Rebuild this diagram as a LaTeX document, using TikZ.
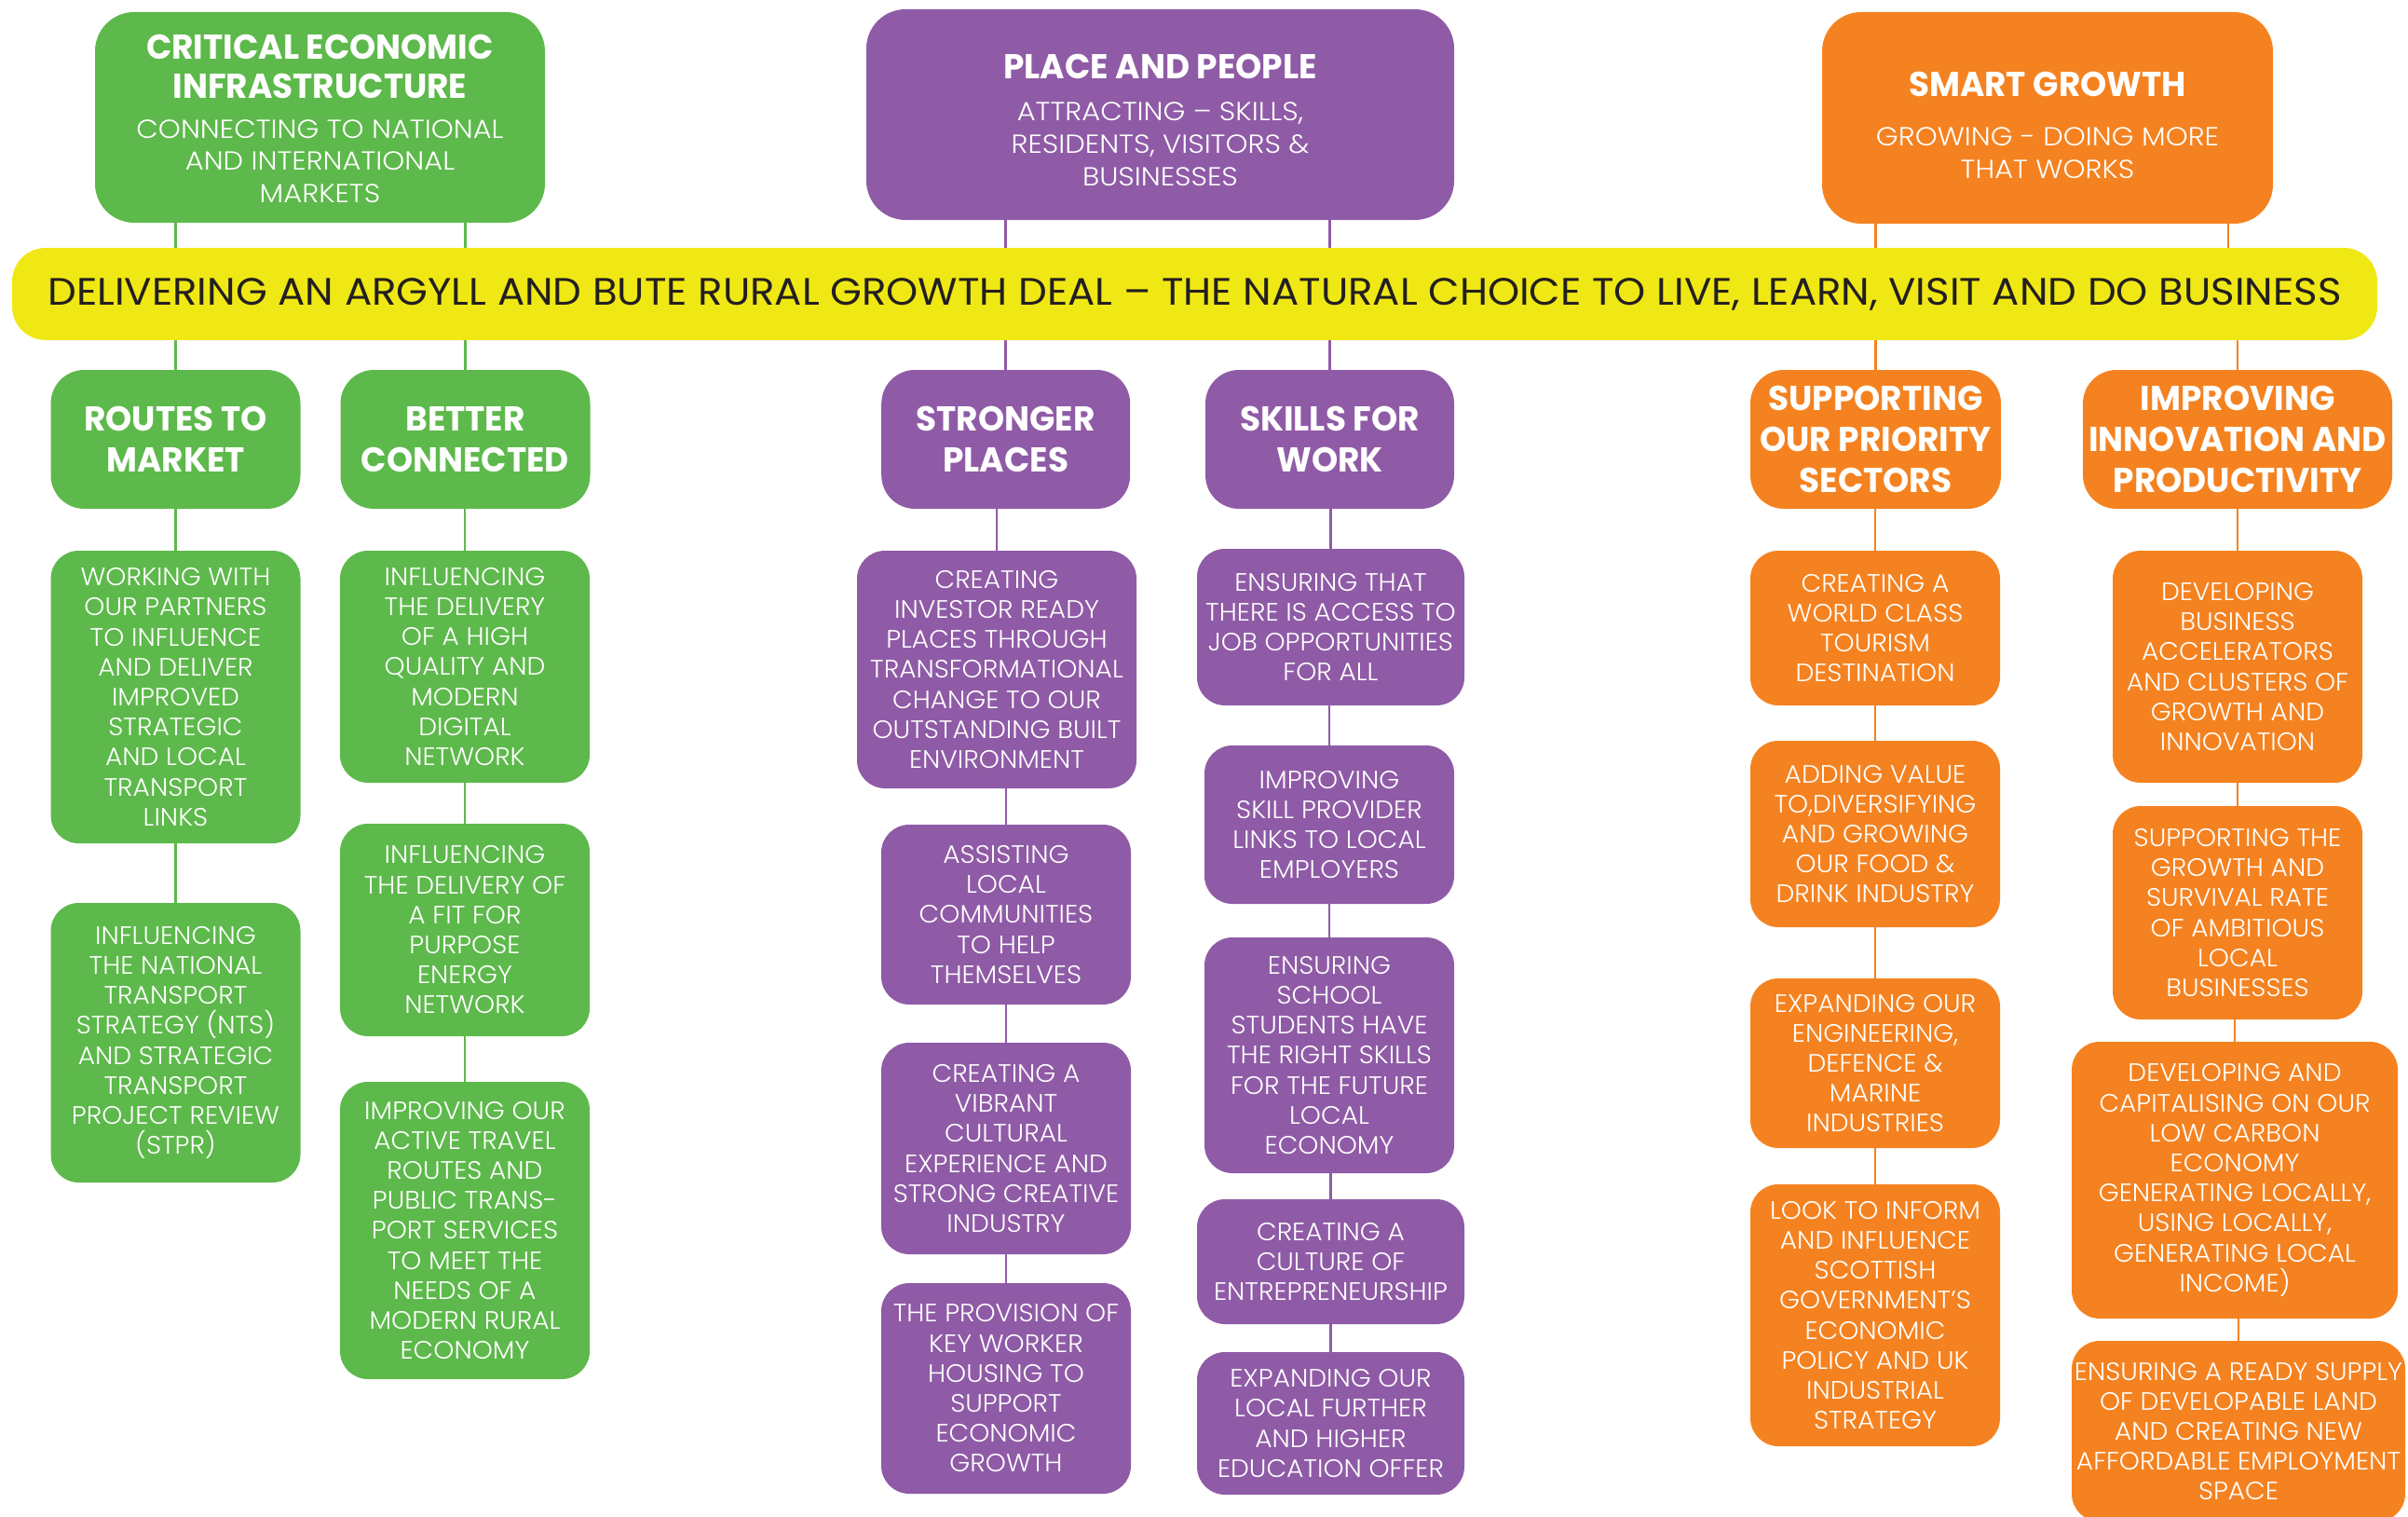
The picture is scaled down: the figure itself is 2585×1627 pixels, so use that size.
\documentclass[tikz,border=0pt]{standalone}
\usepackage{fontspec}
\setmainfont{Poppins}
\newfontfamily\bodyfont{Poppins Light}[FakeStretch=1.04]
\newfontfamily\subfont{Poppins Light}[FakeStretch=1.09]
\newfontfamily\headfont{Poppins}[FakeStretch=0.97]
\newfontfamily\barfont{Poppins}[FakeStretch=1.06]
\usetikzlibrary{backgrounds}
\definecolor{gruen}{HTML}{5DB94B}
\definecolor{lila}{HTML}{8F5BA6}
\definecolor{orangeb}{HTML}{F58220}
\definecolor{gelb}{HTML}{F0E814}
\definecolor{dunkel}{HTML}{231F20}
\newcommand\hd[1]{{\headfont\bfseries\fontsize{37}{42}\selectfont #1}}

\tikzset{
  sz/.style 2 args={minimum width=#1pt, minimum height=#2pt},
  box/.style={rounded corners=30pt, text=white, align=center, inner sep=0pt,
    font=\bodyfont\fontsize{27}{32.2}\selectfont},
  topbox/.style={box, rounded corners=42pt, font=\subfont\fontsize{28}{34.8}\selectfont},
  midbox/.style={box, rounded corners=36pt, font=\headfont\bfseries\fontsize{37}{44}\selectfont},
  link/.style={line width=2.5pt}
}

\begin{document}
\begin{tikzpicture}[x=1pt,y=-1pt]
\useasboundingbox (0,0) rectangle (2585,1627);
\clip (0,0) rectangle (2585,1627);

% top row
\node [topbox,fill=gruen,sz={483}{226}] (crit) at (343.5,126)
  {\hd{\rule{0pt}{29pt}CRITICAL ECONOMIC}\\[7.4pt]\hd{INFRASTRUCTURE}\\[8pt]CONNECTING TO NATIONAL\\AND INTERNATIONAL\\MARKETS};
\node [topbox,fill=lila,sz={631}{226}] (place) at (1245.5,123)
  {\hd{\rule{0pt}{38pt}PLACE AND PEOPLE}\\[10.5pt]ATTRACTING – SKILLS,\\RESIDENTS, VISITORS \&\\BUSINESSES};
\node [topbox,fill=orangeb,sz={484}{227}] (smart) at (2198,126.5)
  {\hd{\rule{0pt}{42pt}SMART GROWTH}\\[18.5pt]GROWING - DOING MORE\\THAT WORKS};

% banner
\node [rounded corners=36pt,fill=gelb,text=dunkel,inner sep=0pt,sz={2539}{99},
  font=\barfont\fontsize{41}{48}\selectfont] (bar) at (1282.5,315.5)
  {DELIVERING AN ARGYLL AND BUTE RURAL GROWTH DEAL – THE NATURAL CHOICE TO LIVE, LEARN, VISIT AND DO BUSINESS};

% second row
\node [midbox,fill=gruen,sz={268}{149}] (routes) at (188.5,471.5) {ROUTES TO\\MARKET};
\node [midbox,fill=gruen,sz={268}{149}] (better) at (499.5,471.5) {BETTER\\CONNECTED};
\node [midbox,fill=lila,sz={267}{149}] (stronger) at (1079.7,471.5) {STRONGER\\PLACES};
\node [midbox,fill=lila,sz={267}{149}] (skills) at (1427.5,471.5) {SKILLS FOR\\WORK};
\node [midbox,fill=orangeb,sz={269}{149}] (supp) at (2013.5,471.5) {SUPPORTING\\OUR PRIORITY\\SECTORS};
\node [midbox,fill=orangeb,sz={332}{149}] (impr) at (2402,471.5) {IMPROVING\\INNOVATION AND\\PRODUCTIVITY};

% green columns
\node [box,fill=gruen,sz={268}{314}] (work) at (188.5,748)
  {WORKING WITH\\OUR PARTNERS\\TO INFLUENCE\\AND DELIVER\\IMPROVED\\STRATEGIC\\AND LOCAL\\TRANSPORT\\LINKS};
\node [box,fill=gruen,sz={268}{300}] (nts) at (188.5,1119)
  {INFLUENCING\\THE NATIONAL\\TRANSPORT\\STRATEGY (NTS)\\AND STRATEGIC\\TRANSPORT\\PROJECT REVIEW\\(STPR)};
\node [box,fill=gruen,sz={268}{249}] (digital) at (499,715.5)
  {INFLUENCING\\THE DELIVERY\\OF A HIGH\\QUALITY AND\\MODERN\\DIGITAL\\NETWORK};
\node [box,fill=gruen,sz={268}{228}] (energy) at (499,998)
  {INFLUENCING\\THE DELIVERY OF\\A FIT FOR\\PURPOSE\\ENERGY\\NETWORK};
\node [box,fill=gruen,sz={268}{319}] (active) at (499,1320.5)
  {IMPROVING OUR\\ACTIVE TRAVEL\\ROUTES AND\\PUBLIC TRANS-\\PORT SERVICES\\TO MEET THE\\NEEDS OF A\\MODERN RURAL\\ECONOMY};

% purple columns
\node [box,fill=lila,sz={300}{255}] (invest) at (1070,718.5)
  {CREATING\\INVESTOR READY\\PLACES THROUGH\\TRANSFORMATIONAL\\CHANGE TO OUR\\OUTSTANDING BUILT\\ENVIRONMENT};
\node [box,fill=lila,sz={268}{193}] (assist) at (1080,981.5)
  {ASSISTING\\LOCAL\\COMMUNITIES\\TO HELP\\THEMSELVES};
\node [box,fill=lila,sz={268}{227}] (vibrant) at (1080,1232.5)
  {CREATING A\\VIBRANT\\CULTURAL\\EXPERIENCE AND\\STRONG CREATIVE\\INDUSTRY};
\node [box,fill=lila,sz={268}{226}] (housing) at (1080,1490)
  {THE PROVISION OF\\KEY WORKER\\HOUSING TO\\SUPPORT\\ECONOMIC\\GROWTH};
\node [box,fill=lila,sz={287}{168}] (access) at (1428.5,673)
  {ENSURING THAT\\THERE IS ACCESS TO\\JOB OPPORTUNITIES\\FOR ALL};
\node [box,fill=lila,sz={268}{170}] (provider) at (1427,885)
  {IMPROVING\\SKILL PROVIDER\\LINKS TO LOCAL\\EMPLOYERS};
\node [box,fill=lila,sz={268}{253}] (school) at (1427,1132.5)
  {ENSURING\\SCHOOL\\STUDENTS HAVE\\THE RIGHT SKILLS\\FOR THE FUTURE\\LOCAL\\ECONOMY};
\node [box,fill=lila,sz={287}{134}] (culture) at (1428.5,1354)
  {CREATING A\\CULTURE OF\\ENTREPRENEURSHIP};
\node [box,fill=lila,sz={287}{153}] (further) at (1428.5,1527.5)
  {EXPANDING OUR\\LOCAL FURTHER\\AND HIGHER\\EDUCATION OFFER};

% orange columns
\node [box,fill=orangeb,sz={268}{166}] (world) at (2013,674)
  {CREATING A\\WORLD CLASS\\TOURISM\\DESTINATION};
\node [box,fill=orangeb,sz={268}{200}] (food) at (2013,895)
  {ADDING VALUE\\TO,DIVERSIFYING\\AND GROWING\\OUR FOOD \&\\DRINK INDUSTRY};
\node [box,fill=orangeb,sz={268}{182}] (engin) at (2013,1141)
  {EXPANDING OUR\\ENGINEERING,\\DEFENCE \&\\MARINE\\INDUSTRIES};
\node [box,fill=orangeb,sz={268}{281}] (scot) at (2013,1411.5)
  {LOOK TO INFORM\\AND INFLUENCE\\SCOTTISH\\GOVERNMENT’S\\ECONOMIC\\POLICY AND UK\\INDUSTRIAL\\STRATEGY};
\node [box,fill=orangeb,sz={268}{249}] (accel) at (2402,715.5)
  {DEVELOPING\\BUSINESS\\ACCELERATORS\\AND CLUSTERS OF\\GROWTH AND\\INNOVATION};
\node [box,fill=orangeb,sz={268}{229}] (ambit) at (2402,979.5)
  {SUPPORTING THE\\GROWTH AND\\SURVIVAL RATE\\OF AMBITIOUS\\LOCAL\\BUSINESSES};
\node [box,fill=orangeb,sz={350}{297}] (carbon) at (2399,1266.5)
  {DEVELOPING AND\\CAPITALISING ON OUR\\LOW CARBON\\ECONOMY\\GENERATING LOCALLY,\\USING LOCALLY,\\GENERATING LOCAL\\INCOME)};
\node [box,fill=orangeb,sz={358}{194}] (supply) at (2403,1536)
  {ENSURING A READY SUPPLY\\OF DEVELOPABLE LAND\\AND CREATING NEW\\AFFORDABLE EMPLOYMENT\\SPACE};

% connectors behind the boxes
\begin{scope}[on background layer]
\draw [link,gruen] (routes.north) -- (routes.north |- crit.south);
\draw [link,gruen] (better.north) -- (better.north |- crit.south);
\draw [link,lila] (stronger.north) -- (stronger.north |- place.south);
\draw [link,lila] (skills.north) -- (skills.north |- place.south);
\draw [link,orangeb] (supp.north) -- (supp.north |- smart.south);
\draw [link,orangeb] (impr.north) -- (impr.north |- bar.south);
\draw [link,orangeb] ([xshift=-10pt]impr.north |- bar.north) -- ([xshift=-10pt]impr.north |- smart.south);
\foreach \a/\b/\c in {routes/work/gruen, work/nts/gruen,
    better/digital/gruen, digital/energy/gruen, energy/active/gruen,
    stronger/invest/lila, invest/assist/lila, assist/vibrant/lila, vibrant/housing/lila,
    skills/access/lila, access/provider/lila, provider/school/lila, school/culture/lila, culture/further/lila,
    supp/world/orangeb, world/food/orangeb, food/engin/orangeb, engin/scot/orangeb,
    impr/accel/orangeb, accel/ambit/orangeb, ambit/carbon/orangeb, carbon/supply/orangeb}
  \draw [link,\c] (\b.north) -- (\b.north |- \a.south);
\end{scope}
\end{tikzpicture}
\end{document}
